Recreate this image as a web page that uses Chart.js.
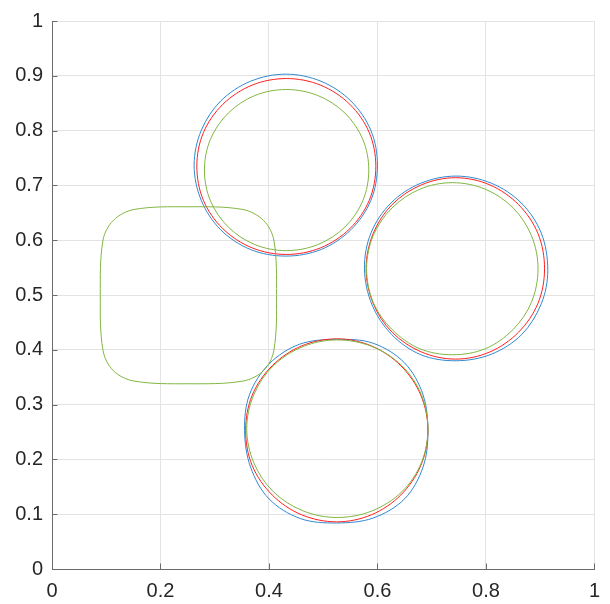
<!DOCTYPE html>
<html>
<head>
<meta charset="utf-8">
<script src="https://cdn.jsdelivr.net/npm/chart.js@4.4.1/dist/chart.umd.min.js"></script>
<style>
  html, body { margin: 0; padding: 0; background: #fff; }
  #plot { display: block; }
</style>
</head>
<body>
<canvas id="plot" width="610" height="604"></canvas>
<script>
// axis ticks
const xTicks = [0, 0.2, 0.4, 0.6, 0.8, 1];
const yTicks = [0, 0.1, 0.2, 0.3, 0.4, 0.5, 0.6, 0.7, 0.8, 0.9, 1];

// blue contours (x, y)
const blueTop = [[0.600,0.737],[0.588,0.800],[0.551,0.854],[0.496,0.890],[0.431,0.903],[0.366,0.890],[0.311,0.854],[0.275,0.800],
  [0.262,0.737],[0.275,0.673],[0.311,0.619],[0.366,0.583],[0.431,0.571],[0.496,0.583],[0.551,0.619],[0.588,0.673]];
const blueRight = [[0.914,0.545],[0.902,0.613],[0.865,0.668],[0.810,0.704],[0.745,0.717],[0.680,0.704],[0.625,0.668],[0.588,0.613],
  [0.576,0.548],[0.590,0.482],[0.626,0.428],[0.680,0.391],[0.745,0.380],[0.810,0.392],[0.866,0.428],[0.902,0.484]];
const blueBottom = [[0.693,0.250],[0.684,0.318],[0.650,0.376],[0.592,0.412],[0.524,0.419],[0.456,0.410],[0.400,0.374],[0.364,0.318],
  [0.355,0.253],[0.366,0.186],[0.400,0.128],[0.458,0.092],[0.525,0.084],[0.592,0.093],[0.650,0.128],[0.684,0.186]];

// red contours
const redTop = [[0.597,0.735],[0.585,0.796],[0.549,0.848],[0.495,0.883],[0.432,0.895],[0.369,0.883],[0.315,0.848],[0.279,0.796],
  [0.267,0.735],[0.279,0.673],[0.315,0.621],[0.369,0.586],[0.432,0.574],[0.495,0.586],[0.549,0.621],[0.585,0.673]];
const redRight = [[0.908,0.548],[0.896,0.612],[0.860,0.665],[0.807,0.701],[0.744,0.714],[0.681,0.701],[0.627,0.665],[0.592,0.612],
  [0.579,0.548],[0.592,0.485],[0.627,0.432],[0.681,0.396],[0.744,0.383],[0.807,0.396],[0.860,0.432],[0.896,0.485]];
const redBottom = [[0.693,0.253],[0.680,0.317],[0.643,0.371],[0.589,0.407],[0.525,0.420],[0.460,0.407],[0.406,0.371],[0.369,0.317],
  [0.357,0.253],[0.369,0.189],[0.406,0.135],[0.460,0.099],[0.525,0.086],[0.589,0.099],[0.643,0.135],[0.680,0.189]];

// green contours
const greenTop = [[0.584,0.728],[0.573,0.784],[0.540,0.832],[0.490,0.864],[0.432,0.875],[0.374,0.864],[0.325,0.832],[0.292,0.784],
  [0.281,0.728],[0.292,0.672],[0.325,0.624],[0.374,0.592],[0.432,0.581],[0.490,0.592],[0.540,0.624],[0.573,0.672]];
const greenRight = [[0.896,0.548],[0.884,0.608],[0.850,0.659],[0.799,0.693],[0.738,0.705],[0.678,0.693],[0.627,0.659],[0.592,0.608],
  [0.580,0.548],[0.592,0.487],[0.627,0.437],[0.678,0.402],[0.738,0.391],[0.799,0.402],[0.850,0.437],[0.884,0.487]];
const greenBottom = [[0.693,0.256],[0.681,0.318],[0.645,0.371],[0.590,0.406],[0.526,0.418],[0.463,0.406],[0.408,0.371],[0.372,0.318],
  [0.359,0.256],[0.372,0.194],[0.408,0.141],[0.463,0.106],[0.526,0.094],[0.590,0.106],[0.645,0.141],[0.681,0.194]];
const greenSquare = [[0.414,0.499],[0.409,0.600],[0.390,0.636],[0.352,0.656],[0.251,0.661],[0.151,0.656],[0.113,0.636],[0.094,0.600],
  [0.089,0.499],[0.094,0.399],[0.113,0.362],[0.151,0.343],[0.251,0.338],[0.352,0.343],[0.390,0.362],[0.409,0.399]];

const BLUE = '#2f89d0';
const RED = '#ff1f1f';
const GREEN = '#80b640';

// closed loop: wrap one point on each side, the wrap segments are hidden
function loop(pts) {
    const n = pts.length;
    const all = [pts[n - 1]].concat(pts, [pts[0], pts[1]]);
    return all.map(p => ({ x: p[0], y: p[1] }));
}

function curve(pts, color) {
    const last = pts.length + 1;
    return {
        data: loop(pts),
        showLine: true,
        borderColor: color,
        borderWidth: 1,
        pointRadius: 0,
        tension: 0.34,
        fill: false,
        segment: {
            borderColor: ctx => (ctx.p0DataIndex === 0 || ctx.p0DataIndex === last) ? 'rgba(0,0,0,0)' : color
        }
    };
}

// inward tick marks like matlab
const innerTicks = {
    id: 'innerTicks',
    afterDraw(chart) {
        const c = chart.ctx;
        const xs = chart.scales.x, ys = chart.scales.y;
        const a = chart.chartArea;
        c.save();
        c.strokeStyle = '#6b6b6b';
        c.lineWidth = 1;
        c.beginPath();
        xTicks.forEach(v => {
            const px = Math.round(xs.getPixelForValue(v)) + 0.5;
            c.moveTo(px, a.bottom);
            c.lineTo(px, a.bottom - 5.5);
        });
        yTicks.forEach(v => {
            const py = Math.round(ys.getPixelForValue(v)) + 0.5;
            c.moveTo(a.left, py);
            c.lineTo(a.left + 5.5, py);
        });
        c.stroke();
        c.restore();
    }
};

const fmt = v => String(+v.toFixed(1));

new Chart(document.getElementById('plot'), {
    type: 'scatter',
    data: {
        datasets: [
            curve(greenTop, GREEN), curve(greenRight, GREEN), curve(greenBottom, GREEN), curve(greenSquare, GREEN),
            curve(redTop, RED), curve(redRight, RED), curve(redBottom, RED),
            curve(blueTop, BLUE), curve(blueRight, BLUE), curve(blueBottom, BLUE)
        ]
    },
    options: {
        responsive: false,
        animation: false,
        layout: { padding: { left: 0, top: 17, right: 9, bottom: 0 } },
        plugins: {
            legend: { display: false },
            tooltip: { enabled: false }
        },
        scales: {
            x: {
                type: 'linear',
                min: 0, max: 1,
                afterFit: s => { s.height = 35; },
                afterBuildTicks: s => { s.ticks = xTicks.map(v => ({ value: v })); },
                grid: { color: '#e3e3e3', lineWidth: 1, drawTicks: false },
                border: { display: true, color: '#6b6b6b', width: 1 },
                ticks: {
                    padding: 10,
                    color: '#262626',
                    font: { family: 'Liberation Sans, Arial, Helvetica, sans-serif', size: 20 },
                    callback: fmt,
                    maxRotation: 0
                }
            },
            y: {
                type: 'linear',
                min: 0, max: 1,
                afterFit: s => { s.width = 52; },
                afterBuildTicks: s => { s.ticks = yTicks.map(v => ({ value: v })); },
                grid: { color: '#e3e3e3', lineWidth: 1, drawTicks: false },
                border: { display: true, color: '#6b6b6b', width: 1 },
                ticks: {
                    padding: 9,
                    color: '#262626',
                    font: { family: 'Liberation Sans, Arial, Helvetica, sans-serif', size: 20 },
                    callback: fmt
                }
            }
        }
    },
    plugins: [innerTicks]
});
</script>
</body>
</html>
